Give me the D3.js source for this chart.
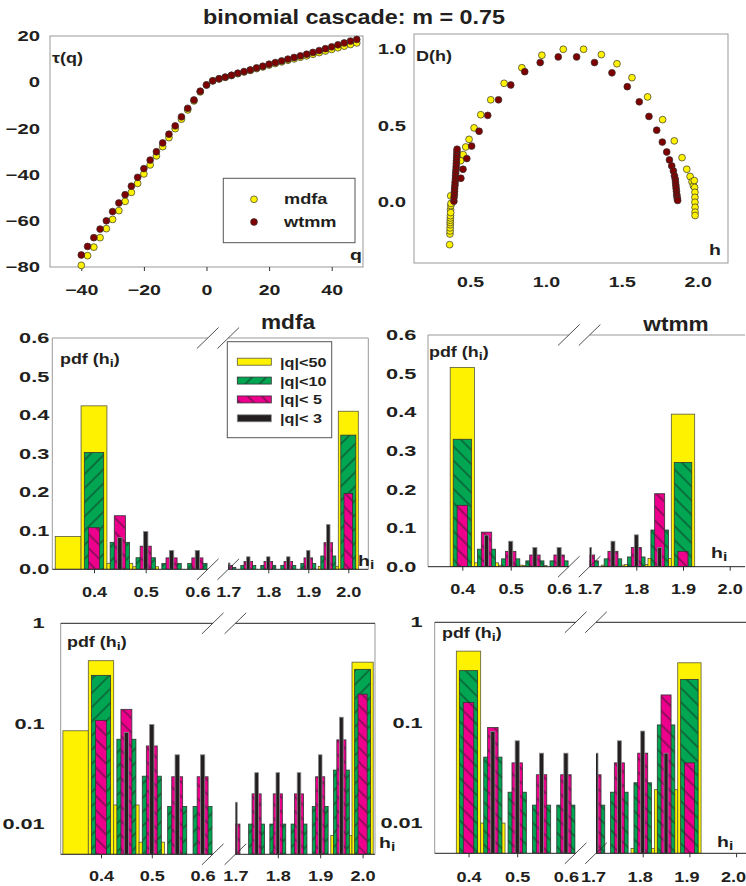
<!DOCTYPE html>
<html>
<head>
<meta charset="utf-8">
<script src="https://cdn.jsdelivr.net/npm/d3@7"></script>
<style>
  body { margin: 0; background: #fff; }
  text { font-family: "Liberation Sans", Arial, sans-serif; font-weight: bold; fill: #231f20; }
</style>
</head>
<body>
<div id="chart"></div>
<script>
// tau(q) spectrum
var qVals = [-40, -38, -36, -34, -32, -30, -28, -26, -24, -22, -20, -18, -16, -14, -12, -10, -8, -6, -4, -2, 0,
             2, 4, 6, 8, 10, 12, 14, 16, 18, 20, 22, 24, 26, 28, 30, 32, 34, 36, 38, 40, 42, 44, 46, 48];
var tauMdfa = [-79.3, -75.1, -71.4, -67.3, -63.4, -59.4, -55.6, -51.6, -47.7, -43.8, -39.7, -35.8, -31.9, -27.9, -24.0, -20.1, -16.0, -12.0, -8.1, -4.2, -1.2,
               0.6, 1.4, 2.1, 2.9, 3.7, 4.4, 5.1, 5.9, 6.6, 7.4, 8.1, 8.8, 9.5, 10.1, 10.8, 11.4, 12.1, 12.8, 13.5, 14.2, 14.9, 15.6, 16.3, 17.0];
var tauWtmm = [-74.8, -71.1, -67.3, -63.6, -60.0, -56.0, -52.3, -48.7, -45.0, -41.2, -37.4, -33.7, -30.1, -26.3, -22.5, -18.9, -15.0, -11.3, -7.7, -3.9, -1.2,
               0.6, 1.5, 2.2, 3.0, 3.9, 4.6, 5.3, 6.2, 6.9, 7.8, 8.5, 9.2, 10.0, 10.7, 11.4, 12.1, 12.9, 13.7, 14.5, 15.3, 16.2, 17.0, 17.8, 18.5];

// D(h) spectrum
var hMdfa = [0.365, 0.367, 0.368, 0.368, 0.369, 0.369, 0.369, 0.370, 0.370, 0.371, 0.372, 0.373, 0.374, 0.372,
             0.438, 0.454, 0.471, 0.493, 0.526, 0.570, 0.636, 0.724, 0.841, 0.973, 1.114, 1.248, 1.365, 1.468, 1.567,
             1.670, 1.769, 1.846, 1.897, 1.928, 1.950, 1.963, 1.972,
             1.978, 1.980, 1.982, 1.982, 1.982, 1.983, 1.983, 1.983];
var dMdfa = [-0.28, -0.21, -0.19, -0.17, -0.15, -0.135, -0.12, -0.105, -0.09, -0.05, -0.07, -0.024, -0.01, 0.04,
             0.27, 0.31, 0.36, 0.41, 0.485, 0.571, 0.669, 0.777, 0.879, 0.961, 1.0, 1.0, 0.965, 0.905, 0.814,
             0.688, 0.539, 0.40, 0.29, 0.214, 0.167, 0.132, 0.106,
             0.14, 0.095, 0.063, 0.03, -0.002, -0.035, -0.067, -0.089];
var hWtmm = [0.393, 0.394, 0.396, 0.397, 0.398, 0.400, 0.401, 0.403, 0.404, 0.405, 0.407, 0.408, 0.409, 0.410, 0.411, 0.412, 0.413, 0.414,
             0.439, 0.453, 0.478, 0.510, 0.559, 0.616, 0.687, 0.768, 0.860, 0.962, 1.081, 1.202, 1.320, 1.435, 1.536, 1.615,
             1.679, 1.730, 1.767, 1.796, 1.814, 1.829, 1.840, 1.847,
             1.852, 1.854, 1.856, 1.858, 1.860, 1.862, 1.864, 1.866, 1.868];
var dWtmm = [0.005, 0.03, 0.05, 0.07, 0.09, 0.11, 0.13, 0.15, 0.17, 0.19, 0.21, 0.23, 0.25, 0.27, 0.29, 0.31, 0.33, 0.345,
             0.155, 0.214, 0.284, 0.366, 0.463, 0.567, 0.669, 0.766, 0.853, 0.913, 0.95, 0.95, 0.913, 0.846, 0.755, 0.656,
             0.56, 0.47, 0.392, 0.327, 0.275, 0.236, 0.203, 0.171,
             0.15, 0.13, 0.11, 0.09, 0.07, 0.05, 0.035, 0.02, 0.01];

// pdf(h_i) histograms
var hBins = [0.35, 0.40, 0.45, 0.50, 0.55, 0.60, 1.70, 1.75, 1.80, 1.85, 1.90, 1.95, 2.00];
var seriesNames = ["|q|<50", "|q|<10", "|q|< 5", "|q|< 3"];
var mdfaQ50 = [0.085, 0.424, 0.0155, 0.0066, 0, 0, 0, 0, 0, 0, 0, 0.0077, 0.41];
var mdfaQ10 = [0, 0.303, 0.07, 0.03, 0.015, 0.015, 0.005, 0.01, 0.01, 0.01, 0.015, 0.0345, 0.348];
var mdfaQ5  = [0, 0.108, 0.139, 0.06, 0.0296, 0.0296, 0.01, 0.02, 0.02, 0.02, 0.0296, 0.069, 0.197];
var mdfaQ3  = [0, 0, 0.082, 0.098, 0.049, 0.049, 0.0165, 0.0325, 0.0325, 0.0325, 0.049, 0.116, 0];
var wtmmQ50 = [0, 0.516, 0.01, 0.004, 0.003, 0, 0, 0.004, 0.0056, 0.0215, 0.395, 0, 0];
var wtmmQ10 = [0, 0.33, 0.0454, 0.0203, 0.0151, 0.0151, 0.0151, 0.0203, 0.0252, 0.095, 0.27, 0, 0];
var wtmmQ5  = [0, 0.159, 0.0895, 0.0398, 0.0303, 0.0303, 0.0303, 0.0398, 0.0497, 0.189, 0.0398, 0, 0];
var wtmmQ3  = [0, 0, 0.0817, 0.066, 0.0497, 0.0497, 0.0497, 0.066, 0.0825, 0.0497, 0, 0, 0];

var binWidth = 0.05;
var barFrac = [1.0, 0.75, 0.43, 0.17];
var yellow = "#fff200", darkRed = "#7f0000", green = "#00a651", pink = "#ec008c", black = "#231f20";

var svg = d3.select("#chart").append("svg").attr("width", 746).attr("height", 886);
var defs = svg.append("defs");

function hatch(id, color, angle) {
    var p = defs.append("pattern").attr("id", id)
        .attr("patternUnits", "userSpaceOnUse")
        .attr("width", 10).attr("height", 10)
        .attr("patternTransform", "rotate(" + angle + ")");
    p.append("rect").attr("width", 10).attr("height", 10).attr("fill", color);
    p.append("line").attr("x1", 5).attr("y1", 0).attr("x2", 5).attr("y2", 10)
        .attr("stroke", "#1a1a1a").attr("stroke-width", 0.8);
}
hatch("greenF", green, 45);
hatch("greenB", green, -45);
hatch("pinkB", pink, -45);

// horizontally stretched text, like the original plotting program's font
function txt(g, x, y, s, size, sx, anchor) {
    return g.append("text")
        .attr("transform", "translate(" + x + "," + y + ") scale(" + sx + ",1)")
        .attr("text-anchor", anchor || "start")
        .style("font-size", size + "px")
        .text(s);
}
function subTxt(g, x, y, pre, sub, post, size, sx) {
    var t = g.append("text")
        .attr("transform", "translate(" + x + "," + y + ") scale(" + sx + ",1)")
        .style("font-size", size + "px");
    t.append("tspan").text(pre);
    t.append("tspan").attr("dy", 3).style("font-size", (size * 0.8) + "px").text(sub);
    if (post) t.append("tspan").attr("dy", -3).text(post);
    return t;
}
function stretchAxis(ax, sx, size, dx) {
    ax.select(".domain").remove();
    ax.selectAll("text").each(function() {
        var t = d3.select(this);
        var x = (+t.attr("x") || 0) + (dx || 0), y = +t.attr("y") || 0;
        t.attr("x", 0).attr("y", 0)
            .attr("transform", "translate(" + x + "," + y + ") scale(" + sx + ",1)")
            .style("font-size", size + "px")
            .attr("fill", "#231f20");
    });
    ax.selectAll("line").attr("stroke", "#333");
    ax.attr("font-family", null).attr("font-size", null);
}
function line(g, x1, y1, x2, y2, color, w) {
    g.append("line").attr("x1", x1).attr("y1", y1).attr("x2", x2).attr("y2", y2)
        .attr("stroke", color).attr("stroke-width", w || 1);
}

// title
txt(svg, 354, 24, "binomial cascade: m = 0.75", 20, 1.17, "middle");

// ---------- tau(q) ----------
(function() {
    var L = 50, R = 363, T = 36, B = 267;
    var g = svg.append("g");
    var x = d3.scaleLinear().domain([-50, 50]).range([L, R]);
    var y = d3.scaleLinear().domain([-80, 20]).range([B, T]);
    g.append("rect").attr("x", L).attr("y", T).attr("width", R - L).attr("height", B - T)
        .attr("fill", "none").attr("stroke", "#999");
    var ay = g.append("g").attr("transform", "translate(" + L + ",0)")
        .call(d3.axisLeft(y).tickValues([-80, -60, -40, -20, 0, 20]).tickSize(0).tickPadding(10));
    stretchAxis(ay, 1.4, 14.5);
    var ax = g.append("g").attr("transform", "translate(0," + B + ")")
        .call(d3.axisBottom(x).tickValues([-40, -20, 0, 20, 40]).tickSizeInner(4).tickSizeOuter(0).tickPadding(14));
    stretchAxis(ax, 1.35, 14.5);

    g.selectAll(".pm").data(qVals).enter().append("circle")
        .attr("cx", function(d) { return x(d); })
        .attr("cy", function(d, i) { return y(tauMdfa[i]); })
        .attr("r", 3.4).attr("fill", yellow).attr("stroke", "#333").attr("stroke-width", 0.7);
    g.selectAll(".pw").data(qVals).enter().append("circle")
        .attr("cx", function(d) { return x(d); })
        .attr("cy", function(d, i) { return y(tauWtmm[i]); })
        .attr("r", 3.4).attr("fill", darkRed).attr("stroke", "#333").attr("stroke-width", 0.7);

    txt(g, 52, 63, "\u03c4(q)", 15, 1.2);
    txt(g, 350, 260, "q", 15, 1.3);

    g.append("rect").attr("x", 223.3).attr("y", 178.3).attr("width", 131.7).attr("height", 64.4)
        .attr("fill", "#fff").attr("stroke", "#555");
    [["mdfa", yellow, 199.3], ["wtmm", darkRed, 222]].forEach(function(e) {
        g.append("circle").attr("cx", 254).attr("cy", e[2]).attr("r", 3.4)
            .attr("fill", e[1]).attr("stroke", "#333").attr("stroke-width", 0.7);
        txt(g, 284, e[2] + 5, e[0], 14, 1.3);
    });
})();

// ---------- D(h) ----------
(function() {
    var L = 414, R = 728, T = 34, B = 263;
    var g = svg.append("g");
    var x = d3.scaleLinear().domain([0.13, 2.2]).range([L, R]);
    var y = d3.scaleLinear().domain([-0.4, 1.1]).range([B, T]);
    g.append("rect").attr("x", L).attr("y", T).attr("width", R - L).attr("height", B - T)
        .attr("fill", "none").attr("stroke", "#999");
    var ay = g.append("g").attr("transform", "translate(" + L + ",0)")
        .call(d3.axisLeft(y).tickValues([0, 0.5, 1.0]).tickFormat(d3.format(".1f")).tickSize(0).tickPadding(8));
    stretchAxis(ay, 1.4, 14.5);
    var ax = g.append("g").attr("transform", "translate(0," + B + ")")
        .call(d3.axisBottom(x).tickValues([0.5, 1.0, 1.5, 2.0]).tickFormat(d3.format(".1f")).tickSize(0).tickPadding(14));
    stretchAxis(ax, 1.35, 14.5);

    g.selectAll(".dm").data(hMdfa).enter().append("circle")
        .attr("cx", function(d) { return x(d); })
        .attr("cy", function(d, i) { return y(dMdfa[i]); })
        .attr("r", 3.4).attr("fill", yellow).attr("stroke", "#333").attr("stroke-width", 0.7);
    g.selectAll(".dw").data(hWtmm).enter().append("circle")
        .attr("cx", function(d) { return x(d); })
        .attr("cy", function(d, i) { return y(dWtmm[i]); })
        .attr("r", 3.4).attr("fill", darkRed).attr("stroke", "#333").attr("stroke-width", 0.7);

    txt(g, 416, 61, "D(h)", 15, 1.2);
    txt(g, 709, 255, "h", 15, 1.3);
})();

// ---------- histograms ----------
function histPanel(p) {
    var g = svg.append("g");
    var xL = d3.scaleLinear().domain([0.4, 0.6]).range([p.l04, p.l04 + 2 * p.lu]);
    var xR = d3.scaleLinear().domain([1.8, 2.0]).range([p.r18, p.r18 + 2 * p.ru]);
    var y = p.log ? d3.scaleLog().domain([0.005, 1]).range([p.bottom, p.top])
                  : d3.scaleLinear().domain([0, 0.6]).range([p.bottom, p.top]);
    var leftEnd = xL(0.62), rightStart = xR(1.7);
    var floor = p.log ? 0.005 : 0;

    defs.append("clipPath").attr("id", p.id + "L").append("rect")
        .attr("x", p.left).attr("y", p.top - 1).attr("width", leftEnd - p.left).attr("height", p.bottom - p.top + 1);
    defs.append("clipPath").attr("id", p.id + "R").append("rect")
        .attr("x", rightStart).attr("y", p.top - 1).attr("width", p.right - rightStart).attr("height", p.bottom - p.top + 1);
    var gL = g.append("g").attr("clip-path", "url(#" + p.id + "L)");
    var gR = g.append("g").attr("clip-path", "url(#" + p.id + "R)");

    var fills = [yellow, "url(#" + p.greenPat + ")", "url(#pinkB)", black];
    var strokes = ["#5a5a3a", "#333", "#333", "#8a8a8a"];

    p.series.forEach(function(vals, k) {
        var rows = hBins.map(function(h, i) { return {h: h, v: vals[i]}; })
            .filter(function(d) { return d.v > floor; });
        [[gL, xL, function(d) { return d.h < 1; }], [gR, xR, function(d) { return d.h > 1; }]].forEach(function(part) {
            var sc = part[1];
            part[0].selectAll(null).data(rows.filter(part[2])).enter().append("rect")
                .attr("x", function(d) {
                    var w = (sc(d.h + binWidth / 2) - sc(d.h - binWidth / 2)) * barFrac[k];
                    return sc(d.h) - w / 2;
                })
                .attr("y", function(d) { return y(d.v); })
                .attr("width", function(d) { return (sc(d.h + binWidth / 2) - sc(d.h - binWidth / 2)) * barFrac[k]; })
                .attr("height", function(d) { return p.bottom - y(d.v); })
                .attr("fill", fills[k])
                .attr("stroke", strokes[k])
                .attr("stroke-width", 0.8);
        });
    });

    // frame with broken x range
    line(g, p.left, p.top, p.left, p.bottom, "#999");
    if (p.rightEdge) line(g, p.right, p.top, p.right, p.bottom, "#999");
    line(g, p.left, p.top, leftEnd, p.top, p.topColor);
    line(g, rightStart, p.top, p.right, p.top, p.topColor);
    line(g, p.left, p.bottom, leftEnd, p.bottom, "#222");
    line(g, rightStart, p.bottom, p.right, p.bottom, "#222");
    [leftEnd, rightStart].forEach(function(cx) {
        [p.top, p.bottom].forEach(function(cy) {
            line(g, cx - 10.8, cy + 10.5, cx + 10.8, cy - 10.5, "#222", 0.8);
        });
    });

    var yAxis = p.log
        ? d3.axisLeft(y).tickValues([0.01, 0.1, 1]).tickFormat(function(d) { return String(d); })
        : d3.axisLeft(y).tickValues([0, 0.1, 0.2, 0.3, 0.4, 0.5, 0.6]).tickFormat(d3.format(".1f"));
    var ay = g.append("g").attr("transform", "translate(" + p.left + ",0)")
        .call(yAxis.tickSize(0).tickPadding(p.ypad));
    stretchAxis(ay, 1.5, 14.5);

    var axl = g.append("g").attr("transform", "translate(0," + p.bottom + ")")
        .call(d3.axisBottom(xL).tickValues([0.4, 0.5, 0.6]).tickFormat(d3.format(".1f"))
            .tickSizeInner(4).tickSizeOuter(0).tickPadding(p.xpad));
    stretchAxis(axl, 1.25, 14.5);
    var axr = g.append("g").attr("transform", "translate(0," + p.bottom + ")")
        .call(d3.axisBottom(xR).tickValues([1.7, 1.8, 1.9, 2.0]).tickFormat(d3.format(".1f"))
            .tickSizeInner(4).tickSizeOuter(0).tickPadding(p.xpad));
    stretchAxis(axr, 1.25, 14.5, p.rdx);
    axl.selectAll(".tick").filter(function(d) { return d > 0.55; }).select("line").remove();
    axr.selectAll(".tick").filter(function(d) { return d < 1.75; }).select("line").remove();

    subTxt(g, p.pdfX, p.pdfY, "pdf (h", "i", ")", 14, 1.28);
    subTxt(g, p.hiX, p.hiY, "h", "i", null, 15, 1.3);
    if (p.title) txt(g, p.title[0], p.title[1], p.title[2], 19.5, 1.16, "middle");
    return g;
}

histPanel({id: "ml", left: 52.3, right: 368.3, top: 338, bottom: 569.3,
    l04: 94, lu: 51.7, r18: 268.3, ru: 40, log: false, ypad: 3, xpad: 13, rdx: 0,
    topColor: "#999", rightEdge: true, greenPat: "greenF",
    series: [mdfaQ50, mdfaQ10, mdfaQ5, mdfaQ3],
    pdfX: 60, pdfY: 364, hiX: 358, hiY: 566, title: [288, 329, "mdfa"]});
histPanel({id: "mr", left: 428, right: 745, top: 335, bottom: 566.7,
    l04: 462.3, lu: 48.4, r18: 636.3, ru: 46.7, log: false, ypad: 11.7, xpad: 13, rdx: 0,
    topColor: "#999", rightEdge: false, greenPat: "greenB",
    series: [wtmmQ50, wtmmQ10, wtmmQ5, wtmmQ3],
    pdfX: 429, pdfY: 357, hiX: 711, hiY: 558, title: [676, 331, "wtmm"]});
histPanel({id: "bl", left: 60.7, right: 375, top: 623.3, bottom: 854.3,
    l04: 101, lu: 50.8, r18: 277.8, ru: 42.4, log: true, ypad: 16, xpad: 12, rdx: 0,
    topColor: "#222", rightEdge: true, greenPat: "greenF",
    series: [mdfaQ50, mdfaQ10, mdfaQ5, mdfaQ3],
    pdfX: 67, pdfY: 647, hiX: 379, hiY: 848});
histPanel({id: "br", left: 434.7, right: 746, top: 622.3, bottom: 853.3,
    l04: 468.5, lu: 48.7, r18: 642.7, ru: 46.7, log: true, ypad: 12, xpad: 14, rdx: -3,
    topColor: "#222", rightEdge: false, greenPat: "greenB",
    series: [wtmmQ50, wtmmQ10, wtmmQ5, wtmmQ3],
    pdfX: 442, pdfY: 638, hiX: 717, hiY: 847});

// legend of the mdfa panel
(function() {
    var g = svg.append("g");
    g.append("rect").attr("x", 227.3).attr("y", 341.7).attr("width", 104.4).attr("height", 96)
        .attr("fill", "#fff").attr("stroke", "#555");
    var fills = [yellow, "url(#greenF)", "url(#pinkB)", black];
    var strokes = ["#5a5a3a", "#333", "#333", "#8a8a8a"];
    var ly = d3.scalePoint().domain(seriesNames).range([361.7, 418.3]);
    seriesNames.forEach(function(n, k) {
        g.append("rect").attr("x", 237.3).attr("y", ly(n) - 3.5).attr("width", 34).attr("height", 7)
            .attr("fill", fills[k]).attr("stroke", strokes[k]).attr("stroke-width", 0.8);
        txt(g, 280, ly(n) + 5, n, 13.5, 1.2);
    });
})();
</script>
</body>
</html>
